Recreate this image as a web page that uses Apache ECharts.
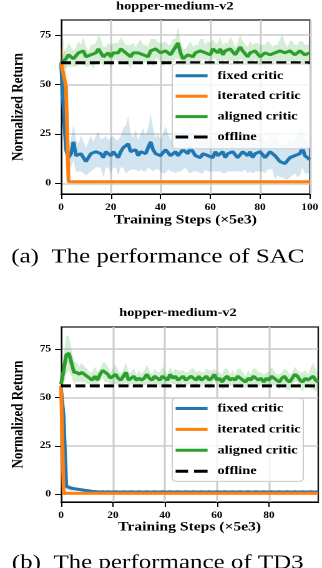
<!DOCTYPE html>
<html>
<head>
<meta charset="utf-8">
<title>hopper-medium-v2</title>
<script src="https://cdn.jsdelivr.net/npm/echarts@6/dist/echarts.min.js"></script>
<style>
  html, body { margin: 0; padding: 0; background: #fff; overflow: hidden; }
  /* the figure is wider than tall in the source, so the chart is stretched sideways */
  #main { width: 258px; height: 568px; transform: scaleX(1.248); transform-origin: 0 0; }
</style>
</head>
<body>
<div id="main"></div>
<script>
var FONT = '"Liberation Serif", "Times New Roman", serif';

// tick labels
var yTicks = [0, 25, 50, 75];
var sacXTicks = [0, 20, 40, 60, 80, 100];
var td3XTicks = [0, 20, 40, 60, 80];
var legendNames = ['fixed critic', 'iterated critic', 'aligned critic', 'offline'];

// (a) SAC, steps 0..100
var sacFixed = [
  61, 38, 17, 13, 15, 21, 14, 13, 15, 13,
  11, 13, 15, 14, 16, 17, 15, 13, 16, 15,
  14, 16, 15, 13, 16, 18, 17, 20, 16, 15,
  17, 14, 16, 17, 15, 18, 21, 17, 15, 16,
  14, 15, 17, 16, 14, 15, 16, 14, 15, 17,
  16, 15, 18, 16, 14, 15, 13, 15, 16, 14,
  15, 13, 16, 14, 15, 16, 13, 15, 14, 16,
  15, 13, 14, 16, 15, 14, 16, 13, 15, 14,
  16, 15, 13, 14, 16, 15, 14, 13, 11, 12,
  10, 11, 13, 12, 14, 13, 15, 18, 14, 13,
  12
];
var sacFixedBand = [
  2, 14, 10, 8, 7, 9, 8, 7, 9, 8,
  7, 8, 9, 7, 8, 9, 7, 10, 8, 7,
  9, 8, 7, 9, 8, 10, 12, 14, 9, 8,
  10, 8, 9, 11, 9, 10, 14, 11, 8, 9,
  8, 10, 12, 9, 8, 9, 11, 8, 9, 10,
  8, 9, 13, 10, 8, 9, 8, 10, 9, 8,
  9, 7, 10, 8, 9, 11, 8, 9, 8, 10,
  9, 7, 8, 10, 8, 9, 10, 8, 9, 8,
  10, 9, 8, 7, 9, 8, 12, 9, 8, 9,
  8, 9, 10, 8, 9, 10, 11, 10, 9, 8,
  7
];
var sacIterated = [
  61, 55, 49, 0.8, 0.8, 0.8, 0.8, 0.8, 0.8, 0.8,
  0.8, 0.8, 0.8, 0.8, 0.8, 0.8, 0.8, 0.8, 0.8, 0.8,
  0.8, 0.8, 0.8, 0.8, 0.8, 0.8, 0.8, 0.8, 0.8, 0.8,
  0.8, 0.8, 0.8, 0.8, 0.8, 0.8, 0.8, 0.8, 0.8, 0.8,
  0.8, 0.8, 0.8, 0.8, 0.8, 0.8, 0.8, 0.8, 0.8, 0.8,
  0.8, 0.8, 0.8, 0.8, 0.8, 0.8, 0.8, 0.8, 0.8, 0.8,
  0.8, 0.8, 0.8, 0.8, 0.8, 0.8, 0.8, 0.8, 0.8, 0.8,
  0.8, 0.8, 0.8, 0.8, 0.8, 0.8, 0.8, 0.8, 0.8, 0.8,
  0.8, 0.8, 0.8, 0.8, 0.8, 0.8, 0.8, 0.8, 0.8, 0.8,
  0.8, 0.8, 0.8, 0.8, 0.8, 0.8, 0.8, 0.8, 0.8, 0.8,
  0.8
];
var sacIteratedBand = [
  6, 18, 12, 0.2, 0.2, 0.2, 0.2, 0.2, 0.2, 0.2,
  0.2, 0.2, 0.2, 0.2, 0.2, 0.2, 0.2, 0.2, 0.2, 0.2,
  0.2, 0.2, 0.2, 0.2, 0.2, 0.2, 0.2, 0.2, 0.2, 0.2,
  0.2, 0.2, 0.2, 0.2, 0.2, 0.2, 0.2, 0.2, 0.2, 0.2,
  0.2, 0.2, 0.2, 0.2, 0.2, 0.2, 0.2, 0.2, 0.2, 0.2,
  0.2, 0.2, 0.2, 0.2, 0.2, 0.2, 0.2, 0.2, 0.2, 0.2,
  0.2, 0.2, 0.2, 0.2, 0.2, 0.2, 0.2, 0.2, 0.2, 0.2,
  0.2, 0.2, 0.2, 0.2, 0.2, 0.2, 0.2, 0.2, 0.2, 0.2,
  0.2, 0.2, 0.2, 0.2, 0.2, 0.2, 0.2, 0.2, 0.2, 0.2,
  0.2, 0.2, 0.2, 0.2, 0.2, 0.2, 0.2, 0.2, 0.2, 0.2,
  0.2
];
var sacAligned = [
  61, 62, 63, 65, 64, 63, 64, 66, 65, 67,
  64, 63, 65, 64, 66, 68, 67, 64, 65, 66,
  64, 66, 67, 66, 68, 67, 66, 65, 64, 66,
  65, 66, 67, 65, 66, 64, 67, 66, 68, 67,
  66, 65, 67, 66, 65, 67, 68, 71, 66, 63,
  64, 65, 66, 64, 66, 65, 67, 68, 66, 67,
  65, 68, 67, 66, 68, 65, 67, 66, 68, 67,
  65, 66, 69, 67, 66, 64, 66, 65, 67, 66,
  64, 65, 66, 67, 65, 64, 66, 65, 67, 68,
  66, 65, 67, 66, 65, 66, 67, 66, 65, 66,
  66
];
var sacAlignedBand = [
  1, 4, 5, 6, 5, 4, 5, 6, 5, 7,
  5, 4, 5, 6, 5, 7, 6, 5, 4, 5,
  6, 5, 4, 5, 6, 5, 4, 5, 6, 5,
  4, 5, 6, 5, 4, 5, 6, 7, 5, 4,
  5, 6, 5, 4, 5, 6, 5, 8, 6, 5,
  4, 5, 6, 5, 4, 5, 6, 5, 4, 5,
  6, 5, 4, 5, 6, 5, 4, 5, 6, 5,
  4, 5, 6, 5, 4, 5, 6, 5, 4, 5,
  6, 5, 4, 5, 6, 5, 4, 5, 6, 7,
  5, 4, 5, 6, 5, 4, 5, 6, 5, 4,
  5
];
var sacOffline = 61;

// (b) TD3, steps 0..99
var td3Fixed = [
  55, 40, 4, 3.5, 3, 2.8, 2.6, 2.4, 2.2, 2,
  1.8, 1.6, 1.4, 1.3, 1.2, 1.1, 1.2, 1.1, 1.2, 1.1,
  1.1, 1.2, 1.1, 1.1, 1.2, 1.1, 1.1, 1.2, 1.1, 1.1,
  1.2, 1.1, 1.1, 1.2, 1.1, 1.1, 1.2, 1.1, 1.1, 1.2,
  1.1, 1.1, 1.2, 1.1, 1.1, 1.2, 1.1, 1.1, 1.2, 1.1,
  1.1, 1.2, 1.1, 1.1, 1.2, 1.1, 1.1, 1.2, 1.1, 1.1,
  1.2, 1.1, 1.1, 1.2, 1.1, 1.1, 1.2, 1.1, 1.1, 1.2,
  1.1, 1.1, 1.2, 1.1, 1.1, 1.2, 1.1, 1.1, 1.2, 1.1,
  1.1, 1.2, 1.1, 1.1, 1.2, 1.1, 1.1, 1.2, 1.1, 1.1,
  1.2, 1.1, 1.1, 1.2, 1.1, 1.1, 1.2, 1.1, 1.1, 1.2
];
var td3FixedBand = [
  0, 6, 2, 1.5, 1.2, 1, 0.9, 0.8, 0.7, 0.6,
  0.5, 0.5, 0.5, 0.5, 0.5, 0.5, 0.5, 0.5, 0.5, 0.5,
  0.5, 0.5, 0.5, 0.5, 0.5, 0.5, 0.5, 0.5, 0.5, 0.5,
  0.5, 0.5, 0.5, 0.5, 0.5, 0.5, 0.5, 0.5, 0.5, 0.5,
  0.5, 0.5, 0.5, 0.5, 0.5, 0.5, 0.5, 0.5, 0.5, 0.5,
  0.5, 0.5, 0.5, 0.5, 0.5, 0.5, 0.5, 0.5, 0.5, 0.5,
  0.5, 0.5, 0.5, 0.5, 0.5, 0.5, 0.5, 0.5, 0.5, 0.5,
  0.5, 0.5, 0.5, 0.5, 0.5, 0.5, 0.5, 0.5, 0.5, 0.5,
  0.5, 0.5, 0.5, 0.5, 0.5, 0.5, 0.5, 0.5, 0.5, 0.5,
  0.5, 0.5, 0.5, 0.5, 0.5, 0.5, 0.5, 0.5, 0.5, 0.5
];
var td3Iterated = [
  56, 0.4, 0.4, 0.4, 0.4, 0.4, 0.4, 0.4, 0.4, 0.4,
  0.4, 0.4, 0.4, 0.4, 0.4, 0.4, 0.4, 0.4, 0.4, 0.4,
  0.4, 0.4, 0.4, 0.4, 0.4, 0.4, 0.4, 0.4, 0.4, 0.4,
  0.4, 0.4, 0.4, 0.4, 0.4, 0.4, 0.4, 0.4, 0.4, 0.4,
  0.4, 0.4, 0.4, 0.4, 0.4, 0.4, 0.4, 0.4, 0.4, 0.4,
  0.4, 0.4, 0.4, 0.4, 0.4, 0.4, 0.4, 0.4, 0.4, 0.4,
  0.4, 0.4, 0.4, 0.4, 0.4, 0.4, 0.4, 0.4, 0.4, 0.4,
  0.4, 0.4, 0.4, 0.4, 0.4, 0.4, 0.4, 0.4, 0.4, 0.4,
  0.4, 0.4, 0.4, 0.4, 0.4, 0.4, 0.4, 0.4, 0.4, 0.4,
  0.4, 0.4, 0.4, 0.4, 0.4, 0.4, 0.4, 0.4, 0.4, 0.4
];
var td3IteratedBand = [
  0, 0.2, 0.2, 0.2, 0.2, 0.2, 0.2, 0.2, 0.2, 0.2,
  0.2, 0.2, 0.2, 0.2, 0.2, 0.2, 0.2, 0.2, 0.2, 0.2,
  0.2, 0.2, 0.2, 0.2, 0.2, 0.2, 0.2, 0.2, 0.2, 0.2,
  0.2, 0.2, 0.2, 0.2, 0.2, 0.2, 0.2, 0.2, 0.2, 0.2,
  0.2, 0.2, 0.2, 0.2, 0.2, 0.2, 0.2, 0.2, 0.2, 0.2,
  0.2, 0.2, 0.2, 0.2, 0.2, 0.2, 0.2, 0.2, 0.2, 0.2,
  0.2, 0.2, 0.2, 0.2, 0.2, 0.2, 0.2, 0.2, 0.2, 0.2,
  0.2, 0.2, 0.2, 0.2, 0.2, 0.2, 0.2, 0.2, 0.2, 0.2,
  0.2, 0.2, 0.2, 0.2, 0.2, 0.2, 0.2, 0.2, 0.2, 0.2,
  0.2, 0.2, 0.2, 0.2, 0.2, 0.2, 0.2, 0.2, 0.2, 0.2
];
var td3Aligned = [
  57, 64, 72, 73, 68, 63, 63, 62, 63, 62,
  61, 60, 59, 61, 59, 62, 64, 63, 62, 60,
  61, 62, 60, 59, 61, 63, 59, 60, 61, 59,
  60, 59, 60, 62, 60, 59, 61, 60, 59, 61,
  60, 59, 62, 60, 61, 59, 60, 61, 59, 60,
  61, 60, 59, 61, 59, 60, 61, 59, 60, 62,
  59, 60, 58, 60, 61, 59, 60, 59, 61, 60,
  59, 58, 60, 59, 61, 60, 59, 60, 58, 60,
  59, 61, 60, 59, 58, 60, 61, 59, 58, 60,
  62, 61, 59, 58, 60, 59, 60, 61, 59, 58
];
var td3AlignedBand = [
  1, 8, 10, 9, 7, 6, 5, 4, 5, 4,
  4, 3, 4, 5, 4, 3, 4, 5, 4, 3,
  4, 5, 4, 3, 4, 5, 4, 3, 4, 3,
  4, 3, 4, 5, 4, 3, 4, 3, 4, 5,
  4, 3, 4, 3, 4, 5, 4, 3, 4, 3,
  4, 5, 4, 3, 4, 3, 4, 5, 4, 3,
  4, 3, 4, 5, 4, 3, 4, 3, 4, 5,
  4, 3, 4, 3, 4, 5, 4, 3, 4, 3,
  4, 5, 4, 3, 4, 3, 4, 5, 4, 3,
  4, 3, 4, 5, 4, 3, 5, 7, 6, 4
];
var td3Offline = 56;

var BLUE = '#1f77b4', ORANGE = '#ff7f0e', GREEN = '#2ca02c';

function pairs(arr) {
  return arr.map(function (v, i) { return [i, v]; });
}

// shaded band: one polygon through the upper edge and back along the lower edge
function addBand(list, mean, half, color, gi) {
  var rows = mean.map(function (v, i) { return [i, v - half[i], v + half[i]]; });
  list.push({
    type: 'custom', xAxisIndex: gi, yAxisIndex: gi, silent: true, z: 1, clip: true,
    data: rows,
    encode: { x: 0, y: [1, 2] },
    renderItem: function (params, api) {
      if (params.dataIndex !== 0) return null;
      var pts = [];
      rows.forEach(function (r) { pts.push(api.coord([r[0], r[2]])); });
      for (var i = rows.length - 1; i >= 0; i--) pts.push(api.coord([rows[i][0], rows[i][1]]));
      return { type: 'polygon', shape: { points: pts }, style: { fill: color, opacity: 0.2 } };
    }
  });
}

function addLine(list, name, mean, color, gi) {
  list.push({
    type: 'line', name: name, xAxisIndex: gi, yAxisIndex: gi,
    data: pairs(mean), symbol: 'none',
    lineStyle: { color: color, width: 3 }, itemStyle: { color: color }, z: 2
  });
}

function addOffline(list, value, len, gi) {
  list.push({
    type: 'line', name: 'offline', xAxisIndex: gi, yAxisIndex: gi,
    data: [[0, value], [len - 1, value]], symbol: 'none',
    lineStyle: { color: '#000', width: 3, type: [8, 3.5] }, itemStyle: { color: '#000' }, z: 3
  });
}

var series = [];
addBand(series, sacFixed, sacFixedBand, BLUE, 0);
addBand(series, sacIterated, sacIteratedBand, ORANGE, 0);
addBand(series, sacAligned, sacAlignedBand, GREEN, 0);
addLine(series, 'fixed critic', sacFixed, BLUE, 0);
addLine(series, 'iterated critic', sacIterated, ORANGE, 0);
addLine(series, 'aligned critic', sacAligned, GREEN, 0);
addOffline(series, sacOffline, sacAligned.length, 0);
addBand(series, td3Fixed, td3FixedBand, BLUE, 1);
addBand(series, td3Iterated, td3IteratedBand, ORANGE, 1);
addBand(series, td3Aligned, td3AlignedBand, GREEN, 1);
addLine(series, 'fixed critic', td3Fixed, BLUE, 1);
addLine(series, 'iterated critic', td3Iterated, ORANGE, 1);
addLine(series, 'aligned critic', td3Aligned, GREEN, 1);
addOffline(series, td3Offline, td3Aligned.length, 1);

var labelStyle = { fontFamily: FONT, fontWeight: 'bold', fontSize: 9, color: '#000' };
var gridLine = { show: true, lineStyle: { color: '#cccccc', width: 1.5 } };

function xAxis(gi, max, ticks, gap) {
  return {
    type: 'value', gridIndex: gi, min: 0, max: max,
    name: 'Training Steps (×5e3)', nameLocation: 'middle', nameGap: gap,
    nameTextStyle: { fontFamily: FONT, fontWeight: 'bold', fontSize: 12.5, color: '#000' },
    axisLine: { show: true, onZero: false, lineStyle: { color: '#000', width: 1 } },
    axisTick: { show: true, length: 5, customValues: ticks, lineStyle: { color: '#000', width: 1 } },
    axisLabel: Object.assign({ customValues: ticks, margin: 9 }, labelStyle),
    splitLine: gridLine
  };
}

function yAxis(gi, min, max) {
  return {
    type: 'value', gridIndex: gi, min: min, max: max,
    name: 'Normalized Return', nameLocation: 'middle', nameGap: 16,
    nameTextStyle: { fontFamily: FONT, fontWeight: 'bold', fontSize: 13, color: '#000' },
    axisLine: { show: true, onZero: false, lineStyle: { color: '#000', width: 1 } },
    axisTick: { show: true, length: 4.8, customValues: yTicks, lineStyle: { color: '#000', width: 1 } },
    axisLabel: Object.assign({ customValues: yTicks, margin: 8 }, labelStyle),
    splitLine: gridLine
  };
}

// legend handles drawn like matplotlib: a thick bar, and a two-dash bar for offline
var SOLID = 'path://M0,0h25.6v3h-25.6z';
var DASHED = 'path://M0,0h10v3h-10zM14.8,0h10.8v3h-10.8z';

function legend(top, pad) {
  return {
    data: legendNames.map(function (n) {
      return { name: n, icon: n === 'offline' ? DASHED : SOLID };
    }),
    orient: 'vertical', left: 138, top: top,
    itemWidth: 25.6, itemHeight: 3, itemGap: pad.gap,
    padding: [pad.v, pad.r, pad.v, 2.7],
    backgroundColor: 'rgba(255,255,255,0.8)', borderColor: '#cccccc', borderWidth: 1, borderRadius: 3,
    selectedMode: false,
    textStyle: { fontFamily: FONT, fontWeight: 'bold', fontSize: 11.5, color: '#000', padding: [0, 0, 0, 3] }
  };
}

function text(x, y, str, font) {
  return {
    type: 'text', x: x, y: y, silent: true,
    style: { text: str, font: font, fill: '#000', align: 'center', verticalAlign: 'middle' }
  };
}

var chart = echarts.init(document.getElementById('main'), null, { devicePixelRatio: 2 });
chart.setOption({
  animation: false,
  backgroundColor: '#fff',
  grid: [
    { left: 30.2, right: 8, top: 20, height: 174, show: true, borderColor: '#1a1a1a', borderWidth: 1.2, backgroundColor: 'transparent' },
    { left: 30.2, right: 3, top: 327, height: 175, show: true, borderColor: '#1a1a1a', borderWidth: 1.2, backgroundColor: 'transparent' }
  ],
  xAxis: [xAxis(0, 100, sacXTicks, 20), xAxis(1, 99, td3XTicks, 18)],
  yAxis: [yAxis(0, -5.4, 82.6), yAxis(1, -4.1, 86.5)],
  legend: [legend(64, { v: 5.8, r: 8, gap: 8.4 }), legend(398.3, { v: 4.2, r: 2, gap: 8.9 })],
  graphic: [
    text(140.1, 6.5, 'hopper-medium-v2', 'bold 11.5px ' + FONT),
    text(142.6, 313, 'hopper-medium-v2', 'bold 11.5px ' + FONT),
    text(126.4, 257, '(a)  The performance of SAC', '20px ' + FONT),
    text(126.4, 563, '(b)  The performance of TD3', '20px ' + FONT)
  ],
  series: series
});
</script>
</body>
</html>
